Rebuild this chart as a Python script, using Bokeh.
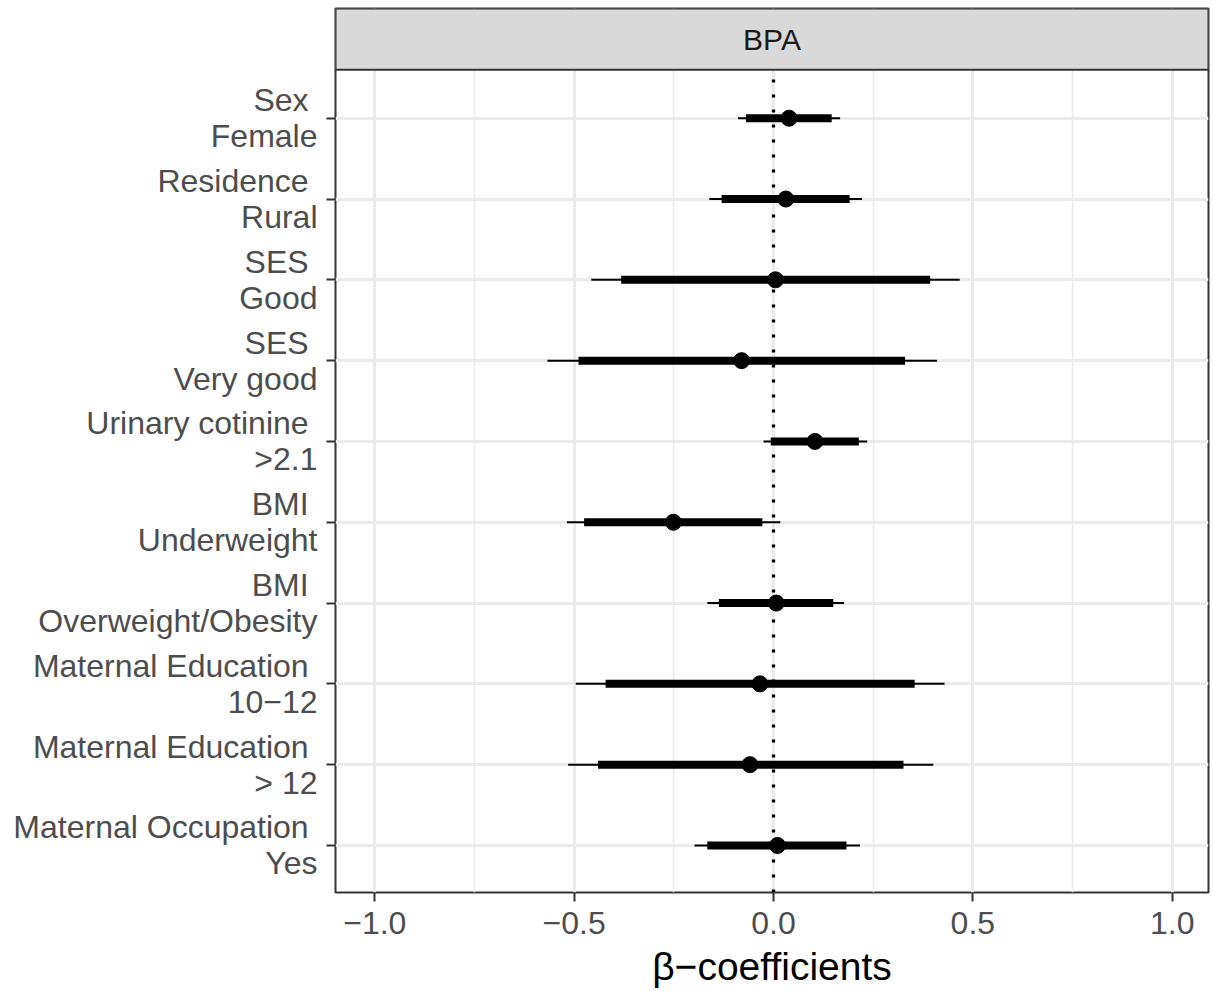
from bokeh.plotting import figure
from bokeh.models import FixedTicker, Range1d, ColumnDataSource
from bokeh.core.properties import value
from bokeh.embed import file_html
from bokeh.resources import INLINE

# ---- data ----
categories = [
    "Sex \nFemale",
    "Residence \nRural",
    "SES \nGood",
    "SES \nVery good",
    "Urinary cotinine \n>2.1",
    "BMI \nUnderweight",
    "BMI \nOverweight/Obesity",
    "Maternal Education \n10\u221212",
    "Maternal Education \n> 12",
    "Maternal Occupation \nYes",
]
estimate = [0.039, 0.031, 0.005, -0.080, 0.104, -0.251, 0.007, -0.034, -0.059, 0.010]
inner_lo = [-0.069, -0.130, -0.382, -0.489, -0.007, -0.475, -0.137, -0.421, -0.440, -0.166]
inner_hi = [0.146, 0.191, 0.393, 0.330, 0.214, -0.028, 0.150, 0.354, 0.326, 0.183]
outer_lo = [-0.089, -0.161, -0.457, -0.567, -0.025, -0.518, -0.166, -0.496, -0.515, -0.198]
outer_hi = [0.167, 0.222, 0.467, 0.410, 0.235, 0.017, 0.177, 0.429, 0.401, 0.217]
facet = "BPA"
x_ticks = [-1.0, -0.5, 0.0, 0.5, 1.0]
x_tick_labels = ["\u22121.0", "\u22120.5", "0.0", "0.5", "1.0"]
x_minor = [-0.75, -0.25, 0.25, 0.75]
x_title = "\u03b2\u2212coefficients"

n = len(categories)
ypos = [n - i for i in range(n)]

src = ColumnDataSource(dict(y=ypos, est=estimate, ilo=inner_lo, ihi=inner_hi,
                            olo=outer_lo, ohi=outer_hi))

FONT = "Liberation Sans"
X0, X1 = -1.0985, 1.091
Y0, PANEL_TOP, Y1 = 0.418, 10.6, 11.358

p = figure(width=1211, height=990, title=None,
           x_range=Range1d(X0, X1), y_range=Range1d(Y0, Y1),
           output_backend="svg", toolbar_location=None,
           min_border_left=335, min_border_right=3, min_border_top=8,
           min_border_bottom=98)
p.background_fill_color = "white"
p.border_fill_color = "white"
p.outline_line_color = "#333333"
p.outline_line_width = 2

# grids
p.xaxis.ticker = FixedTicker(ticks=x_ticks, minor_ticks=x_minor)
p.yaxis.ticker = FixedTicker(ticks=ypos)
p.xgrid.grid_line_color = "#EBEBEB"
p.xgrid.grid_line_width = 3
p.xgrid.minor_grid_line_color = "#EBEBEB"
p.xgrid.minor_grid_line_width = 1.5
p.ygrid.grid_line_color = "#EBEBEB"
p.ygrid.grid_line_width = 3

# axes
for ax in (p.xaxis, p.yaxis):
    ax.axis_line_color = None
    ax.major_tick_line_color = "#333333"
    ax.major_tick_line_width = 2
    ax.major_tick_out = 9
    ax.major_tick_in = 0
    ax.minor_tick_line_color = None
    ax.major_label_text_font = FONT
    ax.major_label_text_font_size = "32px"
    ax.major_label_text_color = "#4D4D4D"

p.xaxis.major_label_overrides = {t: l for t, l in zip(x_ticks, x_tick_labels)}
p.xaxis.major_label_standoff = 10
p.xaxis.axis_label = x_title
p.xaxis.axis_label_text_font = FONT
p.xaxis.axis_label_text_font_style = "normal"
p.xaxis.axis_label_text_font_size = "39px"
p.xaxis.axis_label_text_color = "black"
p.xaxis.axis_label_standoff = 8

p.yaxis.major_label_overrides = {y: c for y, c in zip(ypos, categories)}
p.yaxis.major_label_standoff = 9
p.yaxis.major_label_text_line_height = 1.0

# zero reference line
p.segment(x0=[0], y0=[Y0], x1=[0], y1=[PANEL_TOP], line_color="black",
          line_width=3.3, line_dash="3 12", line_cap="butt")

# intervals and points
p.segment(x0="olo", y0="y", x1="ohi", y1="y", source=src, line_color="black",
          line_width=2, line_cap="butt")
p.segment(x0="ilo", y0="y", x1="ihi", y1="y", source=src, line_color="black",
          line_width=8, line_cap="butt")
p.scatter(x="est", y="y", source=src, size=16, fill_color="black", line_color="black")

# facet strip
p.quad(left=[X0], right=[X1], bottom=[PANEL_TOP], top=[Y1], fill_color="#D9D9D9",
       line_color="#333333", line_width=2)
p.text(x=[(X0 + X1) / 2], y=[(PANEL_TOP + Y1) / 2], text=[facet], text_align="center",
       text_baseline="middle", text_font=value(FONT), text_font_size="30px",
       text_color="#1A1A1A")

open("out.html", "w").write(file_html(p, INLINE))
